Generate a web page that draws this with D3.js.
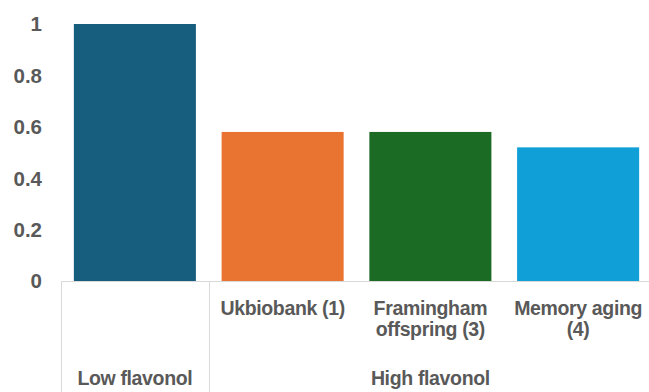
<!DOCTYPE html>
<html>
<head>
<meta charset="utf-8">
<script src="https://cdn.jsdelivr.net/npm/d3@7"></script>
<style>
  body { margin: 0; background: #fff; }
  svg { display: block; }
  text { font-family: "Liberation Sans", Arial, sans-serif; font-weight: bold; fill: #595959; }
</style>
</head>
<body>
<svg id="chart"></svg>
<script>
// data
const categories = ['Low', 'Ukbiobank', 'Framingham', 'Memory aging'];
const values = [1, 0.58, 0.58, 0.52];
const subLabels = [[], ['Ukbiobank (1)'], ['Framingham', 'offspring (3)'], ['Memory aging', '(4)']];
const groupLabels = ['Low flavonol', 'High flavonol'];
const groupOf = [0, 1, 1, 1];
const yTicks = [0, 0.2, 0.4, 0.6, 0.8, 1];

const colors = ['#175e7e', '#e97432', '#1b6b25', '#109fd6'];

const chartW = 649, chartH = 392;
const plotLeft = 61, plotRight = 652, plotTop = 24, plotBase = 281;

const svg = d3.select('#chart')
    .attr('width', chartW)
    .attr('height', chartH);

const xscale = d3.scaleBand()
    .domain(categories)
    .range([plotLeft, plotRight])
    .paddingInner(0.174)
    .paddingOuter(0.087);

const yscale = d3.scaleLinear()
    .domain([0, 1])
    .range([plotBase, plotTop]);

const gap = xscale.step() * xscale.paddingInner() / 2;

// bars
svg.selectAll('.bar')
    .data(values)
    .join('rect')
    .attr('class', 'bar')
    .attr('x', (d, i) => xscale(categories[i]))
    .attr('width', xscale.bandwidth())
    .attr('y', d => yscale(d))
    .attr('height', d => yscale(0) - yscale(d))
    .attr('fill', (d, i) => colors[i]);

// y tick labels
svg.selectAll('.ytick')
    .data(yTicks)
    .join('text')
    .attr('class', 'ytick')
    .attr('x', 42)
    .attr('y', d => yscale(d))
    .attr('dy', '0.36em')
    .attr('text-anchor', 'end')
    .attr('font-size', 20.5)
    .text(d => d3.format('~g')(d));

// axis line
svg.append('line')
    .attr('x1', plotLeft).attr('x2', chartW)
    .attr('y1', yscale(0) + 0.5).attr('y2', yscale(0) + 0.5)
    .attr('stroke', '#d9d9d9');

// group dividers
const groupStarts = categories.filter((c, i) => i === 0 || groupOf[i] !== groupOf[i - 1]);
svg.selectAll('.divider')
    .data(groupStarts)
    .join('line')
    .attr('class', 'divider')
    .attr('x1', d => Math.round(xscale(d) - gap) + 0.5)
    .attr('x2', d => Math.round(xscale(d) - gap) + 0.5)
    .attr('y1', yscale(0))
    .attr('y2', chartH)
    .attr('stroke', '#d9d9d9');

// sub category labels
svg.selectAll('.sublabel')
    .data(subLabels)
    .join('text')
    .attr('class', 'sublabel')
    .attr('x', (d, i) => xscale(categories[i]) + xscale.bandwidth() / 2)
    .attr('y', 315)
    .attr('text-anchor', 'middle')
    .attr('font-size', 19.5)
    .attr('letter-spacing', -0.35)
    .selectAll('tspan')
    .data(d => d)
    .join('tspan')
    .attr('x', function() { return this.parentNode.getAttribute('x'); })
    .attr('dy', (d, i) => i === 0 ? 0 : 21)
    .text(d => d);

// group labels
svg.selectAll('.grouplabel')
    .data(groupLabels)
    .join('text')
    .attr('class', 'grouplabel')
    .attr('x', (d, g) => {
        const cats = categories.filter((c, i) => groupOf[i] === g);
        const x0 = xscale(cats[0]) - gap;
        const x1 = xscale(cats[cats.length - 1]) + xscale.bandwidth() + gap;
        return (x0 + x1) / 2;
    })
    .attr('y', 385)
    .attr('text-anchor', 'middle')
    .attr('font-size', 19.5)
    .attr('letter-spacing', -0.35)
    .text(d => d);
</script>
</body>
</html>
